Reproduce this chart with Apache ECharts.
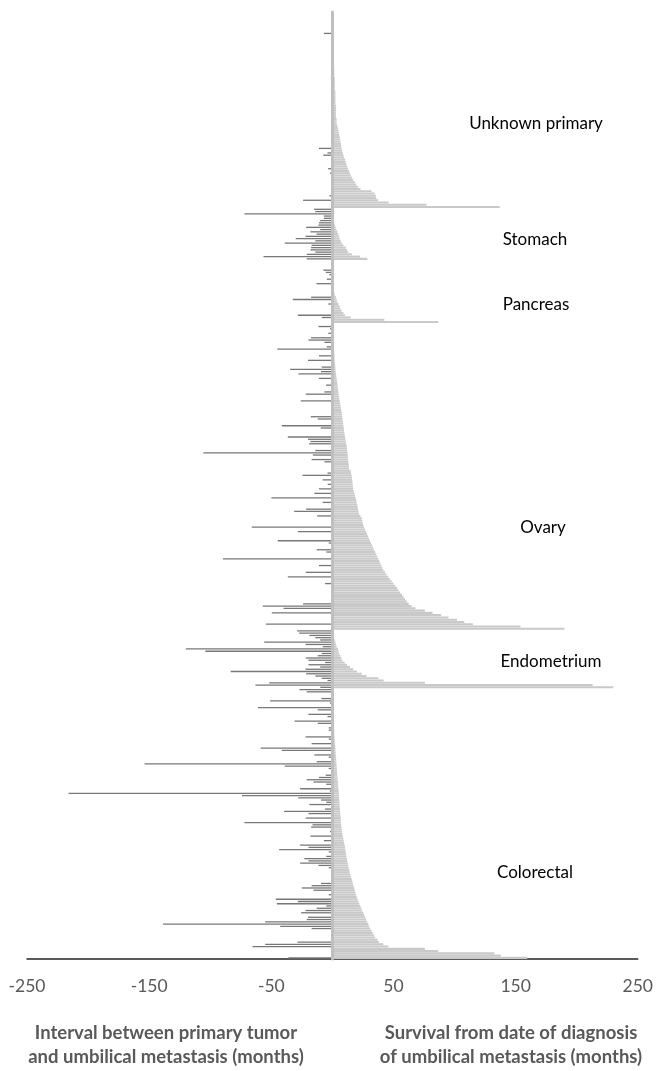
<!DOCTYPE html>
<html>
<head>
<meta charset="utf-8">
<script src="https://cdn.jsdelivr.net/npm/echarts@6/dist/echarts.min.js"></script>
<style>
  html, body { margin: 0; padding: 0; background: #ffffff; }
  #chart { width: 656px; height: 1071px; }
</style>
</head>
<body>
<div id="chart"></div>
<script>
// Umbilical metastasis cases, one row per patient, grouped by primary site.
// Right: survival from diagnosis of the umbilical metastasis (months).
// Left: interval between primary tumour and umbilical metastasis (months, drawn negative).

const groups = ['Unknown primary', 'Stomach', 'Pancreas', 'Ovary', 'Endometrium', 'Colorectal'];

const unknownSurvival = [
  0, 0, 0, 0, 0, 0, 0, 0, 0, 0, 0, 0,
  0.5, 0.5, 0.5, 0.5, 0.5, 0.5, 0.5, 0.5,
  1, 1, 1, 1,
  1.5, 1.5, 1.5, 1.5, 1.5,
  2, 2, 2, 2, 2, 2,
  2.5, 2.5, 2.5, 2.5, 2.5, 2.5,
  3, 3, 3, 3, 3, 3,
  3.5, 3.5, 3.5, 4, 4.5, 5,
  5.3, 5.6, 6, 6.3, 6.6, 7, 7.2, 7.5, 8, 8.5, 9, 9.6, 10.3, 10.8, 11.5, 12, 12.7,
  13.5, 14.3, 15, 16, 17, 18.3, 19.5, 21, 23, 32, 34.5, 35.5, 36, 37.5, 46, 77, 137
];
const unknownInterval = [
  0, 0, 0, 0, 0, 0, 0, 0, 0, -7,
  0, 0, 0, 0, 0, 0, 0, 0, 0, 0,
  0, 0, 0, 0, 0, 0, 0, 0, 0, 0,
  0, 0, 0, 0, 0, 0, 0, 0, 0, 0,
  0, 0, 0, 0, 0, 0, 0, 0, 0, 0,
  0, 0, 0, 0, 0, 0, 0, 0, 0, 0,
  -11, 0, -4, -7.5, 0, 0, 0, 0, 0, -3.5,
  0, -2, 0, 0, 0, 0, 0, 0, 0, 0,
  0, -2.5, 0, -24, 0, 0, 0
];

const stomachSurvival = [
  0, 0, 0, 0, 0.5, 1, 1.6, 2, 2.7, 3.3, 4, 4.7, 5.4, 6, 6.8, 7.6, 9, 11, 12, 13, 16, 22.6, 28.6
];
const stomachInterval = [
  -15, -14, -72, -7, -7, -10, -11, -11.4, -21.5, -10, -18, -13, -22, -30, -14, -39, -17, -17.4,
  -18, -14, -21, -56.4, -21
];

const pancreasSurvival = [
  0, 0, 0, 0, 0, 0, 0, 0, 0, 0, 0, 0,
  0.5, 1, 1.5, 2, 3, 3.5, 4, 5, 6, 6.5, 7.5, 9, 10.4, 15, 42.5, 86.6
];
const pancreasInterval = [
  0, 0, 0, 0, -7.4, -5.4, -2.5, 0, -4.6, 0,
  -13, 0, 0, 0, 0, 0, -17.4, -32.4, 0, -3.3,
  0, 0, 0, 0, -28.3, -8.7, 0, 0
];

const ovarySurvival = [
  0, 0, 0.3, 0.3,
  0.5, 0.5, 0.8, 0.8, 1, 1,
  1.2, 1.3, 1.5, 1.6, 1.7, 1.8, 1.9, 2,
  2.2, 2.4, 2.6, 2.8, 3, 3.2, 3.5,
  3.7, 4, 4.2, 4.4, 4.7, 4.9, 5.1, 5.4,
  5.7, 6, 6.3, 6.6, 6.9, 7.2, 7.6,
  7.8, 8, 8.3, 8.5, 8.8, 9, 9.3, 9.5,
  9.8, 10.1, 10.4, 10.7, 11, 11.4, 11.7,
  11.9, 12.1, 12.3, 12.5, 12.7, 12.9, 13.1, 13.3, 13.5, 13.6,
  15, 15.3, 15.8, 16, 16.2, 16.4, 16.6, 16.8, 17,
  17.5, 18, 18.5, 19, 19.5, 19.9,
  20.3, 20.7, 21, 21.4, 21.8, 23, 24,
  24.4, 24.8, 25.3, 25.8, 26.7,
  27.5, 28.3, 29.1, 30, 30.8,
  31.6, 32.4, 33.2, 34,
  35, 35.8, 36.7, 37.6,
  38.4, 39.2, 40, 40.9, 41.7,
  43, 44.3, 45.7, 47,
  48.5, 50, 51.5, 53, 54,
  55.5, 57, 58.2, 59.4,
  61, 62.5, 64.8, 68,
  75.7, 82, 89,
  95, 102, 108,
  115, 154, 190
];
const ovaryInterval = [
  0, -11.4, -2, 0, -3.3, 0, -17.5, -19.6, -6.5, 0,
  -4.6, -45, 0, 0, -11, 0, -20, 0, 0, -8.7,
  -34.6, -9.3, -27.8, 0, -11, 0, 0, -5.2, 0, 0,
  -6.5, -21.8, 0, 0, -25.9, 0, 0, 0, 0, 0,
  0, -17.7, -12, 0, 0, -41.4, -9.5, 0, 0, 0,
  -36.5, -20, -18, -19, 0, 0, -14, -105.6, -16, 0,
  -17, -6.5, 0, 0, 0, 0, -4, -24.5, 0, -7.9,
  0, -3.8, 0, -11, 0, -14.7, 0, -50, 0, -7.9,
  0, 0, -21.5, -31.3, 0, -12.5, 0, 0, 0, 0,
  -66, 0, -28.3, 0, 0, 0, -44.7, -3, 0, 0,
  -12.8, -5, 0, 0, -89.6, 0, 0, -11, 0, 0,
  -21.8, 0, -36.5, 0, 0, -6, 0, 0, 0, 0,
  0, 0, 0, 0, -24, -57, -40, 0, -49.6, 0,
  0, 0, 0, -54.5, 0, 0
];

const endometriumSurvival = [
  0, 0, 0, 0.5, 2, 2.5, 3, 3.5, 4.5, 5, 5.5, 6.5, 7.2, 8, 10, 12, 14.4, 17, 20, 24, 28, 37.6,
  42, 75.7, 213, 230
];
const endometriumInterval = [
  -28.8, -27.2, -18.8, -14, -10, -55.8, -22, -8, -120, -104, -8.7, -12, -21.8, -19.6, -6, -19.6,
  -10, -22, -83.3, -21.5, -14, -8.7, -4, -51.7, -63, -10
];

const colorectalSurvival = [
  0, 0, 0, 0.3, 0.3, 0.5, 0.5,
  0.6, 0.7, 0.8, 0.8, 0.9, 0.9, 1, 1,
  1.1, 1.2, 1.3, 1.4, 1.5, 1.6, 1.8, 1.9, 2, 2.2, 2.3, 2.5,
  2.6, 2.7, 2.8, 3, 3.1, 3.2, 3.3, 3.5, 3.6, 3.8, 3.9, 4, 4.2, 4.3, 4.5, 4.6, 4.8, 5,
  5.1, 5.2, 5.4, 5.5, 5.6, 5.8, 5.9, 6, 6.2, 6.3, 6.5, 6.6, 6.8, 6.9, 7.1, 7.2, 7.4, 7.6,
  7.9, 8.2, 8.5, 8.9, 9.2, 9.6, 10, 10.3,
  10.6, 10.9, 11.2, 11.5, 11.8, 12.1, 12.5,
  12.9, 13.3, 13.8, 14.2, 14.7, 15.2, 15.8,
  16.3, 16.8, 17.3, 17.8, 18.3, 18.8, 19.4, 19.9,
  20.6, 21.3, 22, 22.8, 23.6, 24.4, 25.3,
  26, 26.8, 27.6, 28.5, 29.4,
  30, 31, 32, 33, 34,
  35, 37, 38, 41.7, 45.8,
  75.7, 86.6, 132.6, 138, 159.5
];
const colorectalInterval = [
  -27, -21, 0, 0, -9, -51, -2, 0, -61, -12,
  0, -19.6, -4, 0, -31, -12, 0, -3, -3, 0,
  0, -22, -3, 0, -17, 0, -58.6, -41.4, 0, -14.7,
  -3, 0, -12.8, -153.8, -39, -3, 0, 0, -5.5, -11,
  -21, -15.5, -5, 0, -26.4, -2, -216, -74, -28, -9.3,
  -5, -18.8, 0, -6, -39.5, -19.6, 0, -21.8, 0, -72,
  -16.3, -17.4, 0, -2, 0, -18, 0, -7, 0, -26.4,
  -19.6, -43.5, -3, 0, -5, -23, -19.6, -26.4, -11.4, -3,
  0, 0, 0, 0, 0, 0, -9.3, -17, -25, -15.5,
  0, -3, 0, -46.3, -28.3, -45.5, -5, -12.8, -22, -25.6,
  0, -20, -21, -55, -138.6, -42.7, -17, 0, 0, 0,
  0, 0, -28.6, -55, -65.4, 0, 0, 0, 0, -36
];

const xTicks = [-250, -150, -50, 50, 150, 250];

const xTitleLeft = ['Interval between primary tumor', 'and umbilical metastasis (months)'];
const xTitleRight = ['Survival from date of diagnosis', 'of umbilical metastasis (months)'];

// Assemble rows in display order (top to bottom)
const survivalByGroup = [unknownSurvival, stomachSurvival, pancreasSurvival, ovarySurvival, endometriumSurvival, colorectalSurvival];
const intervalByGroup = [unknownInterval, stomachInterval, pancreasInterval, ovaryInterval, endometriumInterval, colorectalInterval];

const categories = [];
const survival = [];
const interval = [];
groups.forEach((g, gi) => {
  survivalByGroup[gi].forEach((v, k) => {
    categories.push(g + ' ' + (k + 1));
    survival.push(v);
    interval.push(intervalByGroup[gi][k]);
  });
});

// Group names placed beside each block (pixel layout)
const groupLabelPos = [
  { x: 536, y: 124 },
  { x: 535, y: 240 },
  { x: 536, y: 305 },
  { x: 543, y: 528 },
  { x: 551, y: 662 },
  { x: 535, y: 873 }
];

const labelFont = 'Lato, "Open Sans", sans-serif';

const chart = echarts.init(document.getElementById('chart'), null, { renderer: 'canvas' });

const centered = { textAlign: 'center', textVerticalAlign: 'middle', align: 'center', verticalAlign: 'middle' };

const graphics = groups.map((g, i) => ({
  type: 'text',
  x: groupLabelPos[i].x,
  y: groupLabelPos[i].y,
  z: 100,
  style: Object.assign({ text: g, fill: '#000000', font: '17px ' + labelFont }, centered)
}));
graphics.push({
  type: 'text', x: 166, y: 1045, z: 100,
  style: Object.assign({
    text: xTitleLeft.join('\n'), fill: '#595959', font: 'bold 18.5px ' + labelFont, lineHeight: 24
  }, centered)
});
graphics.push({
  type: 'text', x: 511, y: 1045, z: 100,
  style: Object.assign({
    text: xTitleRight.join('\n'), fill: '#595959', font: 'bold 18.5px ' + labelFont, lineHeight: 24
  }, centered)
});

const yAxisBase = {
  type: 'category',
  data: categories,
  inverse: true,
  axisTick: { show: false },
  axisLabel: { show: false },
  splitLine: { show: false }
};

chart.setOption({
  animation: false,
  backgroundColor: '#ffffff',
  grid: { left: 27, right: 15, top: 12, bottom: 112, containLabel: false },
  xAxis: {
    type: 'value',
    min: xTicks[0],
    max: xTicks[xTicks.length - 1],
    interval: xTicks[1] - xTicks[0],
    axisLine: { show: true, lineStyle: { color: '#262626', width: 1.5 } },
    axisTick: { show: false },
    splitLine: { show: false },
    axisLabel: {
      color: '#595959',
      fontSize: 17.5,
      fontFamily: labelFont,
      margin: 18,
      formatter: v => String(v)
    }
  },
  yAxis: [
    Object.assign({}, yAxisBase, {
      z: 10,
      axisLine: { show: true, onZero: true, lineStyle: { color: '#bfbfbf', width: 3 } }
    }),
    Object.assign({}, yAxisBase, { show: false })
  ],
  series: [
    {
      name: 'Survival',
      type: 'bar',
      yAxisIndex: 0,
      data: survival,
      barWidth: 2.05,
      itemStyle: { color: '#c9c9c9' },
      silent: true
    },
    {
      name: 'Interval',
      type: 'bar',
      yAxisIndex: 1,
      data: interval,
      barWidth: 1.3,
      itemStyle: { color: '#777777' },
      silent: true
    }
  ],
  graphic: graphics
});
</script>
</body>
</html>
